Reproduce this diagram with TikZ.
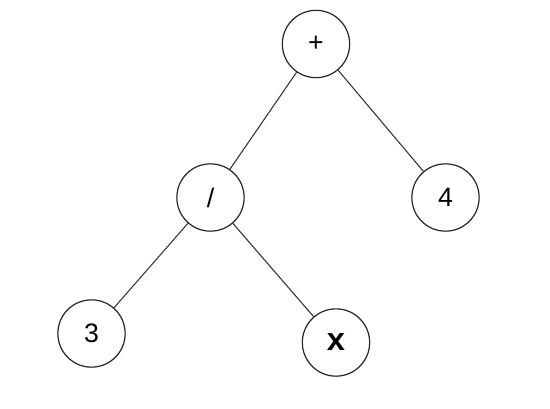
\documentclass[tikz,border=0pt]{standalone}
\usepackage{fontspec}
\setmainfont{Liberation Sans}
\newfontfamily\monofont{Liberation Mono}
\begin{document}
\begin{tikzpicture}[x=0.75pt,y=-0.75pt,
  treenode/.style={draw=black!85,circle,line width=0.9pt,minimum size=50.5pt,inner sep=0pt,font=\fontsize{20}{22}\selectfont},
  edge/.style={draw=black!80,line width=0.8pt}]
\useasboundingbox (0,0) rectangle (550,408);
\node[treenode] (plus) at (316,44) {+};
\node[treenode] (div) at (210.5,197.5) {/};
\node[treenode] (four) at (445.5,197.5) {4};
\node[treenode] (three) at (91.5,333.5) {3};
\node[treenode,font=\monofont\bfseries\fontsize{24}{26}\selectfont] (x) at (336,342.5) {x};
\draw[edge] (plus) -- (div);
\draw[edge] (plus) -- (four);
\draw[edge] (div) -- (three);
\draw[edge] (div) -- (x);
\end{tikzpicture}
\end{document}
